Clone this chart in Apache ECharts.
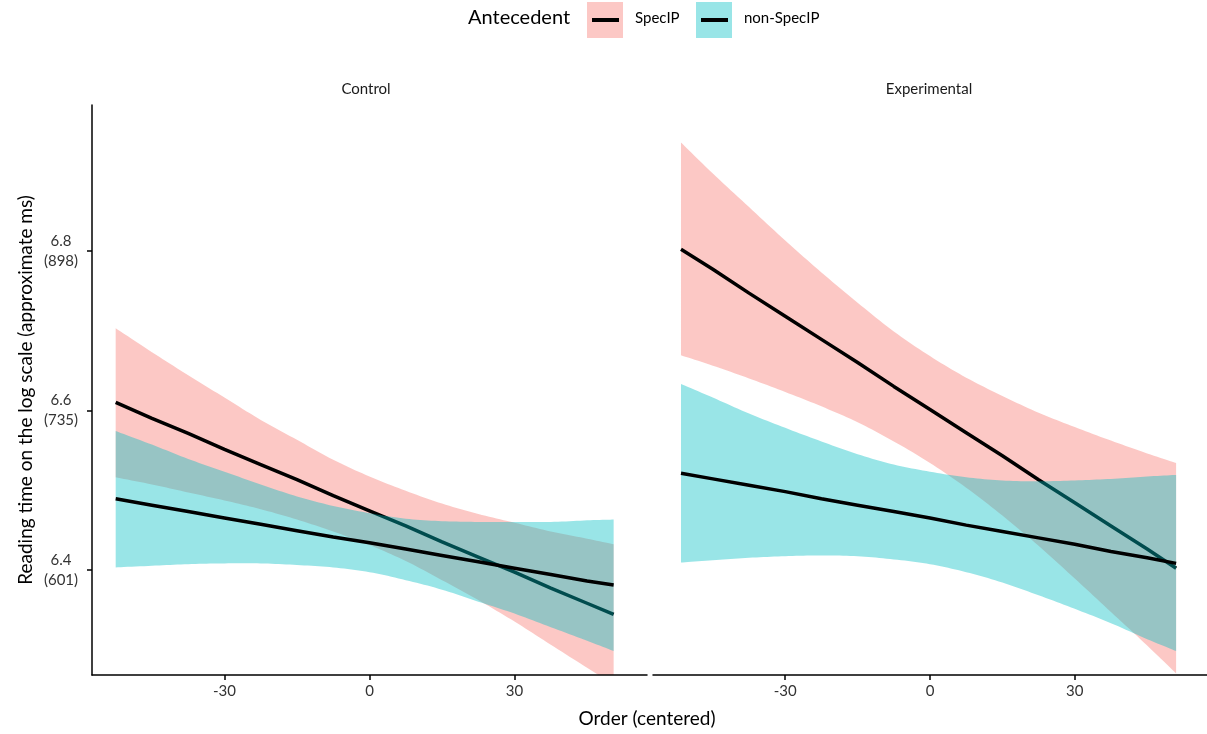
<!DOCTYPE html>
<html>
<head>
<meta charset="utf-8">
<script src="https://cdn.jsdelivr.net/npm/echarts@6/dist/echarts.min.js"></script>
<style>
html,body{margin:0;padding:0;background:#fff;}
#chart{width:1207px;height:734px;}
</style>
</head>
<body>
<div id="chart"></div>
<script>
// ---- data ----
const panels = ['Control', 'Experimental'];
const groups = ['SpecIP', 'non-SpecIP'];

const xCtrl = [-52.5, -45, -37.5, -30, -22.5, -15, -7.5, 0, 7.5, 15, 22.5, 30, 37.5, 45, 50.5];
const xExp  = [-51.6, -45, -37.5, -30, -22.5, -15, -7.5, 0, 7.5, 15, 22.5, 30, 37.5, 45, 51];

const ctrlSpecFit = [6.610, 6.590, 6.571, 6.551, 6.532, 6.513, 6.493, 6.474, 6.455, 6.435, 6.416, 6.397, 6.377, 6.358, 6.344];
const ctrlSpecLo  = [6.516, 6.507, 6.497, 6.487, 6.476, 6.463, 6.448, 6.431, 6.411, 6.387, 6.362, 6.335, 6.306, 6.277, 6.256];
const ctrlSpecHi  = [6.703, 6.673, 6.644, 6.616, 6.588, 6.563, 6.538, 6.517, 6.499, 6.483, 6.470, 6.459, 6.448, 6.439, 6.432];

const ctrlNonFit = [6.489, 6.481, 6.473, 6.465, 6.457, 6.449, 6.441, 6.434, 6.426, 6.418, 6.410, 6.402, 6.394, 6.386, 6.381];
const ctrlNonLo  = [6.403, 6.405, 6.407, 6.408, 6.408, 6.406, 6.403, 6.397, 6.387, 6.375, 6.360, 6.345, 6.328, 6.311, 6.298];
const ctrlNonHi  = [6.574, 6.557, 6.539, 6.523, 6.507, 6.492, 6.480, 6.471, 6.464, 6.461, 6.460, 6.460, 6.460, 6.462, 6.463];

const expSpecFit = [6.802, 6.777, 6.747, 6.718, 6.689, 6.660, 6.630, 6.601, 6.572, 6.543, 6.513, 6.484, 6.455, 6.426, 6.402];
const expSpecLo  = [6.669, 6.656, 6.640, 6.623, 6.605, 6.585, 6.561, 6.534, 6.503, 6.468, 6.430, 6.389, 6.347, 6.305, 6.270];
const expSpecHi  = [6.936, 6.897, 6.855, 6.813, 6.773, 6.735, 6.699, 6.668, 6.641, 6.618, 6.597, 6.579, 6.562, 6.546, 6.534];

const expNonFit = [6.521, 6.514, 6.506, 6.498, 6.489, 6.481, 6.473, 6.465, 6.456, 6.448, 6.440, 6.432, 6.423, 6.415, 6.408];
const expNonLo  = [6.409, 6.412, 6.415, 6.417, 6.418, 6.417, 6.413, 6.407, 6.397, 6.384, 6.368, 6.351, 6.333, 6.313, 6.298];
const expNonHi  = [6.633, 6.616, 6.596, 6.578, 6.561, 6.545, 6.532, 6.523, 6.516, 6.512, 6.511, 6.512, 6.514, 6.517, 6.519];

const xTicks = [-30, 0, 30];
const yTicks = [6.4, 6.6, 6.8];
const yTickLabels = ['6.4\n(601)', '6.6\n(735)', '6.8\n(898)'];

// ---- styling ----
const FONT = 'Lato';
const PINK = '#F8766D';
const CYAN = '#00BFC4';
const TXT = '#333333';

const zip = (xs, ys) => xs.map((x, i) => [x, ys[i]]);

// Catmull-Rom resampling in pixel space (rendering only)
function smoothPts(p) {
  const out = [p[0]];
  const n = p.length;
  for (let i = 0; i < n - 1; i++) {
    const p0 = p[Math.max(i - 1, 0)], p1 = p[i], p2 = p[i + 1], p3 = p[Math.min(i + 2, n - 1)];
    const c1 = [p1[0] + (p2[0] - p0[0]) / 6, p1[1] + (p2[1] - p0[1]) / 6];
    const c2 = [p2[0] - (p3[0] - p1[0]) / 6, p2[1] - (p3[1] - p1[1]) / 6];
    const S = 10;
    for (let s = 1; s <= S; s++) {
      const t = s / S, u = 1 - t;
      out.push([
        u*u*u*p1[0] + 3*u*u*t*c1[0] + 3*u*t*t*c2[0] + t*t*t*p2[0],
        u*u*u*p1[1] + 3*u*u*t*c1[1] + 3*u*t*t*c2[1] + t*t*t*p2[1]
      ]);
    }
  }
  return out;
}

function band(gi, xs, lo, hi, color, z) {
  return {
    type: 'custom', xAxisIndex: gi, yAxisIndex: gi, clip: true, silent: true, z: z,
    data: xs.map((x, i) => [x, lo[i], hi[i]]),
    encode: { x: 0, y: [1, 2] },
    renderItem: (params, api) => {
      if (params.dataIndex !== 0) return null;
      const up = xs.map((x, i) => api.coord([x, hi[i]]));
      const dn = xs.map((x, i) => api.coord([x, lo[i]])).reverse();
      const pts = smoothPts(up).concat(smoothPts(dn));
      return { type: 'polygon', shape: { points: pts }, style: { fill: color, opacity: 0.4 } };
    }
  };
}
function fitLine(gi, xs, ys, z) {
  return { type: 'line', xAxisIndex: gi, yAxisIndex: gi, data: zip(xs, ys), symbol: 'none', z: z,
    lineStyle: { color: '#000', width: 3.5 }, silent: true, clip: true };
}

const series = [
  band(0, xCtrl, ctrlSpecLo, ctrlSpecHi, PINK, 1),
  fitLine(0, xCtrl, ctrlSpecFit, 2),
  band(0, xCtrl, ctrlNonLo, ctrlNonHi, CYAN, 3),
  fitLine(0, xCtrl, ctrlNonFit, 4),
  band(1, xExp, expSpecLo, expSpecHi, PINK, 1),
  fitLine(1, xExp, expSpecFit, 2),
  band(1, xExp, expNonLo, expNonHi, CYAN, 3),
  fitLine(1, xExp, expNonFit, 4)
];

const xAxisBase = (gi) => ({
  type: 'value', gridIndex: gi, min: -57.4, max: 57.4, z: 10,
  axisLine: { show: true, onZero: false, lineStyle: { color: '#000', width: 1.5 } },
  axisTick: { show: true, length: 5, customValues: xTicks, lineStyle: { color: '#000', width: 1.5 } },
  axisLabel: { customValues: xTicks, color: TXT, fontFamily: FONT, fontSize: 15, margin: 9 },
  splitLine: { show: false }
});
const yAxisBase = (gi) => ({
  type: 'value', gridIndex: gi, min: 6.268, max: 6.983, show: gi === 0, z: 10,
  axisLine: { show: true, onZero: false, lineStyle: { color: '#000', width: 1.5 } },
  axisTick: { show: true, length: 5, customValues: yTicks, lineStyle: { color: '#000', width: 1.5 } },
  axisLabel: { customValues: yTicks, color: TXT, fontFamily: FONT, fontSize: 15, lineHeight: 20,
    align: 'center', margin: 31,
    formatter: (v) => { const i = yTicks.findIndex(t => Math.abs(t - v) < 1e-6); return i >= 0 ? yTickLabels[i] : ''; } },
  splitLine: { show: false }
});

const graphic = [
  { type: 'text', left: 468, top: 8, style: { text: 'Antecedent', font: '20px ' + FONT, fill: '#000' } },
  { type: 'rect', shape: { x: 587, y: 2, width: 36, height: 36 }, style: { fill: PINK, opacity: 0.4 } },
  { type: 'line', shape: { x1: 592, y1: 20, x2: 619, y2: 20 }, style: { stroke: '#000', lineWidth: 4 } },
  { type: 'text', left: 635, top: 11, style: { text: groups[0], font: '15px ' + FONT, fill: '#000' } },
  { type: 'rect', shape: { x: 696, y: 2, width: 36, height: 36 }, style: { fill: CYAN, opacity: 0.4 } },
  { type: 'line', shape: { x1: 701, y1: 20, x2: 728, y2: 20 }, style: { stroke: '#000', lineWidth: 4 } },
  { type: 'text', left: 744, top: 11, style: { text: groups[1], font: '15px ' + FONT, fill: '#000' } },
  { type: 'text', x: 366, y: 89, style: { text: panels[0], font: '15px ' + FONT, fill: '#1a1a1a', align: 'center', verticalAlign: 'middle' } },
  { type: 'text', x: 929, y: 89, style: { text: panels[1], font: '15px ' + FONT, fill: '#1a1a1a', align: 'center', verticalAlign: 'middle' } },
  { type: 'text', x: 26, y: 390, rotation: Math.PI / 2, style: { text: 'Reading time on the log scale (approximate ms)', font: '19px ' + FONT, fill: '#000', align: 'center', verticalAlign: 'middle' } },
  { type: 'text', x: 647, y: 719, style: { text: 'Order (centered)', font: '19px ' + FONT, fill: '#000', align: 'center', verticalAlign: 'middle' } }
];

const chart = echarts.init(document.getElementById('chart'), null, { renderer: 'canvas' });
chart.setOption({
  animation: false,
  backgroundColor: '#fff',
  grid: [
    { left: 92, width: 555, top: 105, height: 570 },
    { left: 653, width: 554, top: 105, height: 570 }
  ],
  xAxis: [xAxisBase(0), xAxisBase(1)],
  yAxis: [yAxisBase(0), yAxisBase(1)],
  series: series,
  graphic: graphic
});
</script>
</body>
</html>
